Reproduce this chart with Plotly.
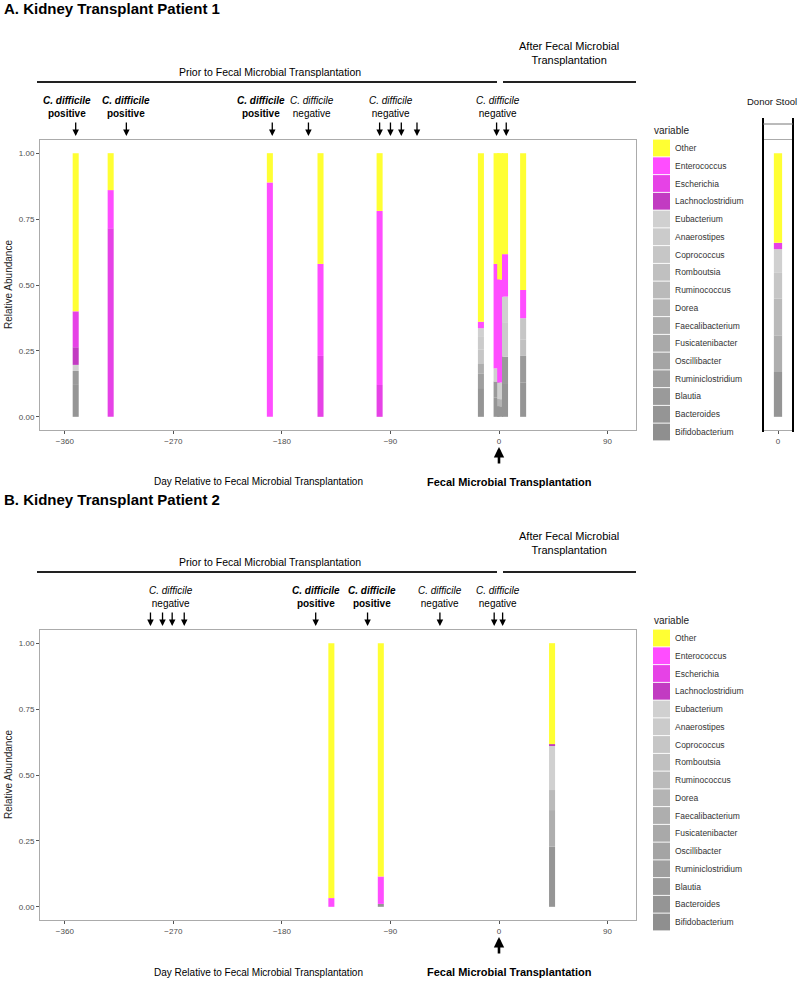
import plotly.graph_objects as go

# ---------------- data ----------------
genera = ["Other", "Enterococcus", "Escherichia", "Lachnoclostridium", "Eubacterium",
          "Anaerostipes", "Coprococcus", "Romboutsia", "Ruminococcus", "Dorea",
          "Faecalibacterium", "Fusicatenibacter", "Oscillibacter", "Ruminiclostridium",
          "Blautia", "Bacteroides", "Bifidobacterium"]

# Patient 1: sample days (relative to FMT) and relative abundance per genus (order as genera)
p1_days = [-351, -322, -190, -148, -99, -15, -2, 1, 5, 20]
p1_s1 = [0.600, 0, 0.136, 0.067, 0.023, 0, 0, 0, 0, 0, 0, 0, 0, 0, 0.050, 0.124, 0]
p1_s2 = [0.140, 0.145, 0.715, 0, 0, 0, 0, 0, 0, 0, 0, 0, 0, 0, 0, 0, 0]
p1_s3 = [0.111, 0.889, 0, 0, 0, 0, 0, 0, 0, 0, 0, 0, 0, 0, 0, 0, 0]
p1_s4 = [0.420, 0.349, 0.231, 0, 0, 0, 0, 0, 0, 0, 0, 0, 0, 0, 0, 0, 0]
p1_s5 = [0.219, 0.660, 0.121, 0, 0, 0, 0, 0, 0, 0, 0, 0, 0, 0, 0, 0, 0]
p1_s6 = [0.639, 0.025, 0, 0, 0.030, 0.050, 0.053, 0, 0, 0, 0.038, 0, 0, 0.056, 0, 0.109, 0]
p1_s7 = [0.420, 0.396, 0, 0, 0.050, 0, 0, 0, 0, 0, 0, 0, 0, 0, 0.060, 0.074, 0]
p1_s8 = [0.479, 0.391, 0, 0, 0.063, 0, 0, 0, 0, 0.027, 0, 0, 0, 0, 0, 0.040, 0]
p1_s9 = [0.383, 0.161, 0, 0, 0.100, 0.128, 0, 0, 0, 0, 0, 0, 0, 0, 0.100, 0.128, 0]
p1_s10 = [0.519, 0.107, 0, 0, 0, 0, 0.080, 0.063, 0, 0, 0, 0, 0, 0, 0.100, 0.131, 0]
p1_samples = [p1_s1, p1_s2, p1_s3, p1_s4, p1_s5, p1_s6, p1_s7, p1_s8, p1_s9, p1_s10]

donor = [0.340, 0, 0.024, 0, 0.090, 0, 0.097, 0, 0.140, 0, 0.139, 0, 0, 0, 0, 0.170, 0]

# Patient 2
p2_days = [-139, -98, 44]
p2_s1 = [0.967, 0.033, 0, 0, 0, 0, 0, 0, 0, 0, 0, 0, 0, 0, 0, 0, 0]
p2_s2 = [0.885, 0.104, 0, 0, 0, 0, 0, 0, 0, 0, 0, 0, 0, 0, 0, 0.011, 0]
p2_s3 = [0.383, 0, 0, 0.005, 0.169, 0, 0, 0, 0.076, 0, 0.139, 0, 0, 0, 0, 0.228, 0]
p2_samples = [p2_s1, p2_s2, p2_s3]

# C. difficile test days (groups share one label) and results
p1_test_groups = [[-351], [-309], [-188], [-158], [-99, -90, -81, -68], [-2, 6]]
p1_test_results = ["positive", "positive", "positive", "negative", "negative", "negative"]
p2_test_groups = [[-289, -279, -271, -261], [-152], [-109], [-49], [-4, 3]]
p2_test_results = ["negative", "positive", "positive", "negative", "negative"]

x_ticks = [-360, -270, -180, -90, 0, 90]
y_ticks = [0, 0.25, 0.5, 0.75, 1.0]
y_ticktext = ["0.00", "0.25", "0.50", "0.75", "1.00"]

# ---------------- style ----------------
colors = ["#FFFF33", "#FF4DFF", "#E642E6", "#C23BC2", "#D0D0D0", "#CBCBCB", "#C6C6C6",
          "#C0C0C0", "#BABABA", "#B4B4B4", "#AEAEAE", "#A9A9A9", "#A4A4A4", "#9F9F9F",
          "#9A9A9A", "#959595", "#8F8F8F"]
NARROW = "Liberation Sans Narrow, Arial Narrow, Liberation Sans, Arial, sans-serif"
SANS = "Liberation Sans, Arial, Helvetica, sans-serif"
W, H = 800, 981
PX_PER_DAY = 1.206
ZERO_PX = 499


def px(x):
    return x / W


def py(y):
    return 1 - y / H


def day_of(xpix):
    return (xpix - ZERO_PX) / PX_PER_DAY


fig = go.Figure()


def add_sample(day, vals, xa, ya, width):
    xs, ys, bases, cols = [], [], [], []
    cum = 0.0
    for i in range(len(genera) - 1, -1, -1):
        v = vals[i]
        if v > 0:
            xs.append(day)
            ys.append(v)
            bases.append(cum)
            cols.append(colors[i])
            cum += v
    fig.add_trace(go.Bar(x=xs, y=ys, base=bases, width=width,
                         marker=dict(color=cols, line=dict(width=0)),
                         xaxis=xa, yaxis=ya, showlegend=False, hoverinfo="skip"))


for d, s in zip(p1_days, p1_samples):
    add_sample(d, s, "x", "y", 5)
add_sample(0, donor, "x2", "y2", 0.55)
for d, s in zip(p2_days, p2_samples):
    add_sample(d, s, "x3", "y3", 5)

xr = [day_of(40), day_of(636)]
axis_common = dict(showline=True, mirror=True, linecolor="#ABABAB", linewidth=1,
                   showgrid=False, zeroline=False, ticks="outside", ticklen=3,
                   tickcolor="#555555", tickwidth=1,
                   tickfont=dict(family=SANS, size=8, color="#4D4D4D"))

fig.update_layout(
    width=W, height=H, margin=dict(l=0, r=0, t=0, b=0),
    paper_bgcolor="white", plot_bgcolor="white", barmode="overlay", showlegend=False,
    xaxis=dict(domain=[px(40), px(636)], range=xr, tickvals=x_ticks, anchor="y", **axis_common),
    yaxis=dict(domain=[py(430), py(140)], range=[-0.05, 1.05], tickvals=y_ticks,
               ticktext=y_ticktext, anchor="x", **axis_common),
    xaxis2=dict(domain=[px(763), px(793)], range=[-1, 1], tickvals=[0], anchor="y2", **axis_common),
    yaxis2=dict(domain=[py(430), py(140)], range=[-0.05, 1.05], anchor="x2",
                showticklabels=False, showgrid=False, zeroline=False, ticks="",
                showline=False),
    xaxis3=dict(domain=[px(40), px(636)], range=xr, tickvals=x_ticks, anchor="y3", **axis_common),
    yaxis3=dict(domain=[py(920), py(630)], range=[-0.05, 1.05], tickvals=y_ticks,
                ticktext=y_ticktext, anchor="x3", **axis_common),
)

annotations = []
shapes = []


def txt(x, y, text, size=11, family=NARROW, xanchor="center", yanchor="middle",
        color="black", xref="paper", **kw):
    annotations.append(dict(x=x, y=y, xref=xref, yref="paper", text=text, showarrow=False,
                            xanchor=xanchor, yanchor=yanchor,
                            font=dict(family=family, size=size, color=color), **kw))


def hline(x0, x1, y, color="#222", width=2):
    shapes.append(dict(type="line", xref="paper", yref="paper", x0=px(x0), x1=px(x1),
                       y0=py(y), y1=py(y), line=dict(color=color, width=width)))


def vline(x, y0, y1, color="black", width=2):
    shapes.append(dict(type="line", xref="paper", yref="paper", x0=px(x), x1=px(x),
                       y0=py(y0), y1=py(y1), line=dict(color=color, width=width)))


def panel(off, title, xref, groups, results, nudges):
    txt(px(2), py(9 + off), "<b>" + title + "</b>", size=15, xanchor="left")
    txt(px(569), py(53 + off), "After Fecal Microbial<br>Transplantation", size=11)
    txt(px(270), py(72 + off), "Prior to Fecal Microbial Transplantation", size=10.5)
    hline(37, 497, 82 + off)
    hline(503, 636, 82 + off)
    for g, r, nd in zip(groups, results, nudges):
        for d in g:
            annotations.append(dict(x=d, y=py(136 + off), xref=xref, yref="paper", text="",
                                    showarrow=True, ax=0, ay=-15, arrowhead=2, arrowsize=1,
                                    arrowwidth=1.3, arrowcolor="black"))
        center = sum(g) / len(g)
        if r == "positive":
            label = "<b><i>C. difficile</i><br>positive</b>"
        else:
            label = "<i>C. difficile</i><br>negative"
        annotations.append(dict(x=center, y=py(121 + off), xref=xref, yref="paper",
                                text=label, showarrow=False, xanchor="center",
                                yanchor="bottom", xshift=nd,
                                font=dict(family=NARROW, size=10, color="black")))
    # FMT arrow & bottom labels
    annotations.append(dict(x=0, y=py(447 + off), xref=xref, yref="paper", text="",
                            showarrow=True, ax=0, ay=18, arrowhead=2, arrowsize=0.8,
                            arrowwidth=2.6, arrowcolor="black"))
    txt(px(258), py(482 + off), "Day Relative to Fecal Microbial Transplantation", size=10)
    txt(px(509), py(482 + off), "<b>Fecal Microbial Transplantation</b>", size=11)
    txt(px(8), py(285 + off), "Relative Abundance", size=10, family=SANS, textangle=-90,
        color="#222")
    # legend
    txt(px(652), py(130 + off), "variable", size=10, family=SANS, xanchor="left", color="#222")
    step = 17.75
    for i, g in enumerate(genera):
        cy = 148 + off + i * step
        shapes.append(dict(type="rect", xref="paper", yref="paper", x0=px(653), x1=px(670),
                           y0=py(cy - 8.4), y1=py(cy + 8.4), fillcolor=colors[i],
                           line=dict(width=0)))
        txt(px(673), py(cy), g, size=8.5, family=SANS, xanchor="left", color="#333")


panel(0, "A. Kidney Transplant Patient 1", "x", p1_test_groups, p1_test_results,
      [-9, 0, -11, 4, -6, -3])
panel(490, "B. Kidney Transplant Patient 2", "x3", p2_test_groups, p2_test_results,
      [4, 0, 4, 0, 0])

# donor stool panel extras
txt(px(799), py(101), "Donor Stool", size=9.5, family=SANS, xanchor="right", color="#111")
vline(763, 118, 432)
vline(793, 118, 432)
hline(763, 793, 124, color="#777", width=1)

fig.update_layout(annotations=annotations, shapes=shapes)
fig.write_html("out.html", config={"displayModeBar": False},
               post_script="document.body.style.margin='0';document.body.style.overflow='hidden';")
